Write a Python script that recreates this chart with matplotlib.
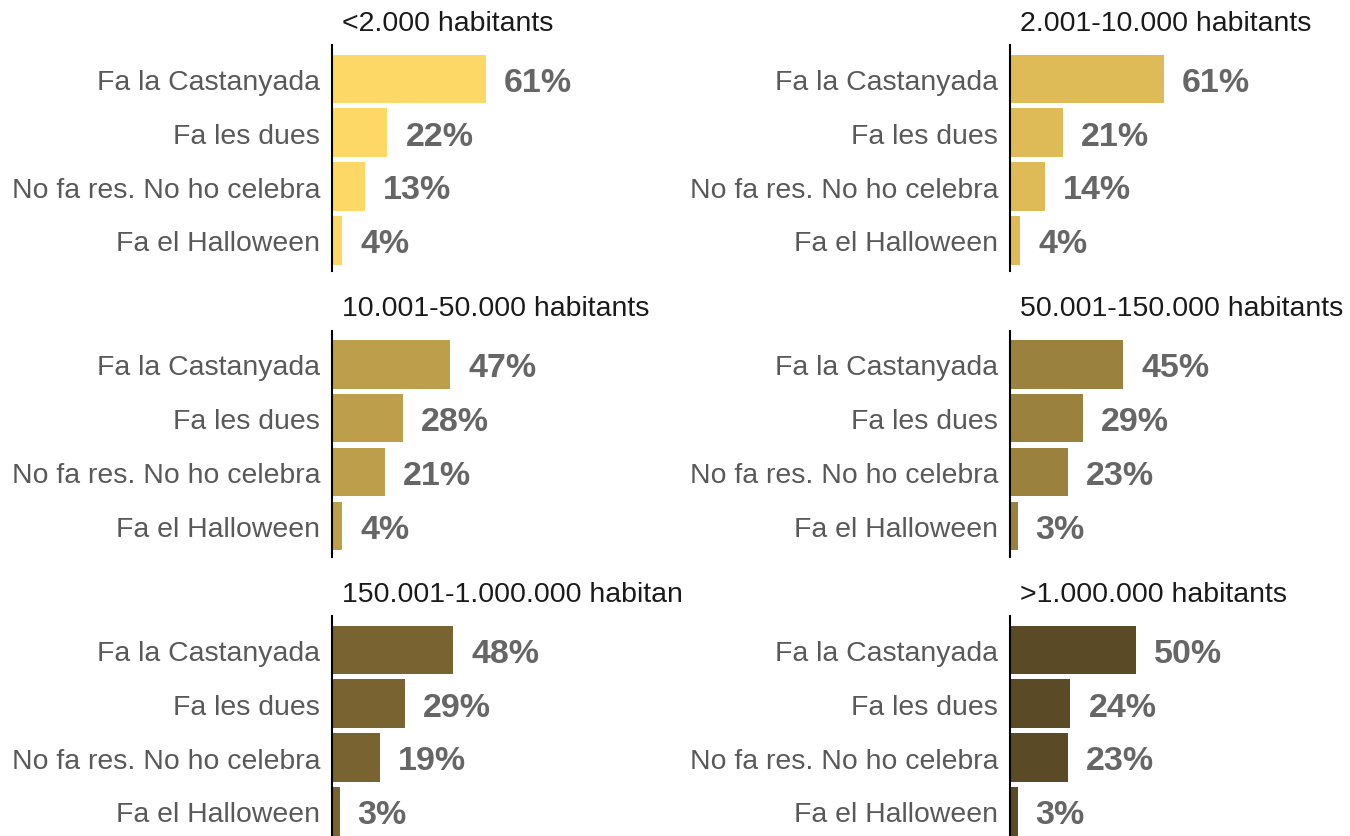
import matplotlib
matplotlib.use("Agg")
import matplotlib.pyplot as plt

plt.rcParams['font.family'] = ['Liberation Sans', 'DejaVu Sans']

categories = ["Fa la Castanyada", "Fa les dues", "No fa res. No ho celebra", "Fa el Halloween"]

titles = ["<2.000 habitants", "2.001-10.000 habitants",
          "10.001-50.000 habitants", "50.001-150.000 habitants",
          "150.001-1.000.000 habitan", ">1.000.000 habitants"]

vals_lt2k = [61, 22, 13, 4]
vals_2k_10k = [61, 21, 14, 4]
vals_10k_50k = [47, 28, 21, 4]
vals_50k_150k = [45, 29, 23, 3]
vals_150k_1m = [48, 29, 19, 3]
vals_gt1m = [50, 24, 23, 3]

series = [vals_lt2k, vals_2k_10k, vals_10k_50k, vals_50k_150k, vals_150k_1m, vals_gt1m]
colors = ["#FDD867", "#DFBB58", "#BC9E4B", "#9A823E", "#796330", "#5A4A26"]

W, H = 1350, 837
fig = plt.figure(figsize=(W / 100, H / 100), dpi=100)

# pixel layout of each panel (left spine x, top y)
spine_x = [332, 1010]
row_top = [46, 331.5, 617]
ax_w, ax_h = 300, 226

for i, (vals, title, col) in enumerate(zip(series, titles, colors)):
    x0 = spine_x[i % 2]
    y0 = row_top[i // 2]
    ax = fig.add_axes([x0 / W, 1 - (y0 + ax_h) / H, ax_w / W, ax_h / H])
    ypos = list(range(len(categories)))
    ax.barh(ypos, vals, height=0.9, color=col)
    ax.set_xlim(0, ax_w / 2.52)
    ax.set_ylim(3.57, -0.63)
    ax.set_yticks(ypos)
    ax.set_yticklabels(categories, fontsize=20.4, color="#595959")
    ax.tick_params(axis='y', length=0, pad=8.5)
    ax.set_xticks([])
    for s in ['top', 'right', 'bottom']:
        ax.spines[s].set_visible(False)
    ax.spines['left'].set_linewidth(1.5)
    ax.spines['left'].set_color("black")
    for y, v in zip(ypos, vals):
        ax.annotate(f"{v}%", xy=(v, y), xytext=(13, -2.5), textcoords='offset points',
                    ha='left', va='center', fontsize=24.5, fontweight='bold',
                    color="#666666")
    ax.text(10 / ax_w, 1 + 22 / ax_h, title, transform=ax.transAxes,
            ha='left', va='center', fontsize=20.5, color="#1a1a1a")

fig.savefig("out.png", dpi=100)
